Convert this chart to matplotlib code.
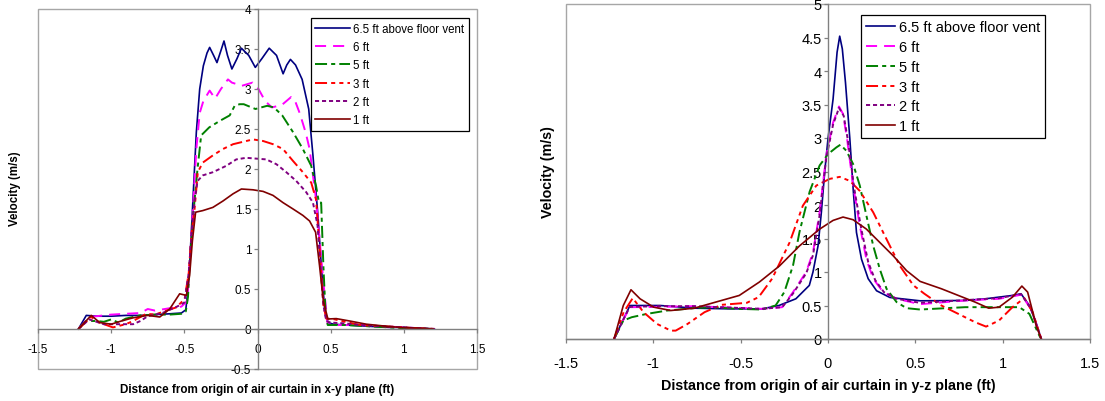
import matplotlib
matplotlib.use("Agg")
import matplotlib.pyplot as plt
from matplotlib.patches import Rectangle
from matplotlib.ticker import FuncFormatter, MultipleLocator

plt.rcParams['font.family'] = ['Liberation Sans', 'DejaVu Sans']
plt.rcParams['axes.unicode_minus'] = False

labels = ['6.5 ft above floor vent', '6 ft', '5 ft', '3 ft', '2 ft', '1 ft']

# ---- x-y plane (left chart) ----
xl_65 = [-1.224, -1.17, -1.1, -1.0, -0.9, -0.8, -0.7, -0.6, -0.52, -0.49,
         -0.475, -0.464, -0.441, -0.418, -0.395, -0.37, -0.345, -0.327, -0.30, -0.277,
         -0.25, -0.229, -0.205, -0.175, -0.14, -0.11, -0.06, -0.015, 0.03, 0.08,
         0.13, 0.175, 0.20, 0.225, 0.26, 0.305, 0.35, 0.379, 0.413, 0.436,
         0.459, 0.481, 0.52, 0.6, 0.7, 0.8, 0.9, 1.0, 1.1, 1.2]
yl_65 = [0, 0.17, 0.16, 0.16, 0.17, 0.17, 0.18, 0.19, 0.2, 0.24,
         0.5, 0.79, 1.62, 2.46, 3.0, 3.29, 3.45, 3.52, 3.42, 3.33,
         3.48, 3.6, 3.42, 3.25, 3.38, 3.51, 3.42, 3.27, 3.38, 3.51,
         3.42, 3.19, 3.3, 3.37, 3.3, 3.12, 2.75, 2.17, 1.42, 0.79,
         0.25, 0.08, 0.06, 0.05, 0.04, 0.03, 0.02, 0.02, 0.01, 0.0]

xl_6 = [-1.224, -1.15, -1.0, -0.9, -0.8, -0.75, -0.7, -0.6, -0.52, -0.48,
        -0.464, -0.441, -0.418, -0.395, -0.37, -0.327, -0.29, -0.25, -0.202, -0.175,
        -0.107, -0.034, 0.007, 0.052, 0.098, 0.166, 0.23, 0.257, 0.29, 0.33,
        0.356, 0.40, 0.43, 0.46, 0.48, 0.52, 0.6, 0.7, 0.8, 0.9,
        1.0, 1.1, 1.2]
yl_6 = [0, 0.15, 0.18, 0.19, 0.2, 0.25, 0.23, 0.26, 0.28, 0.35,
        0.8, 1.5, 2.25, 2.7, 2.85, 2.98, 2.88, 3.0, 3.12, 3.08,
        3.04, 3.08, 3.0, 2.85, 2.77, 2.8, 2.9, 2.85, 2.69, 2.45,
        2.25, 1.62, 1.0, 0.4, 0.06, 0.05, 0.05, 0.05, 0.04, 0.03,
        0.02, 0.01, 0.0]

xl_5 = [-1.224, -1.17, -1.1, -1.05, -1.0, -0.95, -0.9, -0.8, -0.7, -0.6,
        -0.52, -0.49, -0.475, -0.464, -0.441, -0.41, -0.385, -0.33, -0.259, -0.19,
        -0.156, -0.122, -0.094, -0.014, 0.066, 0.112, 0.169, 0.243, 0.31, 0.367,
        0.40, 0.42, 0.435, 0.45, 0.465, 0.48, 0.52, 0.6, 0.7, 0.8,
        0.9, 1.0, 1.1, 1.2]
yl_5 = [0, 0.1, 0.1, 0.09, 0.12, 0.08, 0.13, 0.17, 0.18, 0.18,
        0.19, 0.22, 0.4, 0.8, 1.4, 2.0, 2.42, 2.52, 2.6, 2.67,
        2.79, 2.81, 2.81, 2.75, 2.79, 2.77, 2.67, 2.46, 2.25, 2.04,
        1.79, 1.58, 1.58, 0.8, 0.2, 0.05, 0.05, 0.05, 0.04, 0.03,
        0.02, 0.01, 0.01, 0.0]

xl_3 = [-1.224, -1.136, -1.08, -0.988, -0.9, -0.85, -0.76, -0.7, -0.623, -0.555,
        -0.498, -0.47, -0.45, -0.43, -0.408, -0.374, -0.305, -0.236, -0.167, -0.099,
        -0.031, 0.038, 0.106, 0.174, 0.243, 0.31, 0.367, 0.40, 0.425, 0.45,
        0.47, 0.516, 0.6, 0.7, 0.8, 0.9, 1.0, 1.1, 1.22]
yl_3 = [0, 0.15, 0.08, 0.02, 0.06, 0.1, 0.19, 0.18, 0.23, 0.27,
        0.375, 0.7, 1.2, 1.5, 1.96, 2.08, 2.17, 2.25, 2.31, 2.34,
        2.37, 2.35, 2.31, 2.25, 2.1, 1.96, 1.83, 1.62, 1.0, 0.3,
        0.13, 0.125, 0.09, 0.05, 0.04, 0.03, 0.02, 0.01, 0.0]

xl_2 = [-1.224, -1.15, -1.05, -0.95, -0.85, -0.8, -0.75, -0.65, -0.55, -0.5,
        -0.47, -0.45, -0.43, -0.41, -0.374, -0.305, -0.213, -0.145, -0.077, -0.01,
        0.06, 0.129, 0.197, 0.265, 0.333, 0.379, 0.41, 0.43, 0.45, 0.47,
        0.5, 0.6, 0.7, 0.8, 0.9, 1.0, 1.1, 1.22]
yl_2 = [0, 0.12, 0.06, 0.06, 0.06, 0.1, 0.16, 0.2, 0.28, 0.33,
        0.7, 1.2, 1.6, 1.85, 1.92, 1.96, 2.04, 2.12, 2.14, 2.13,
        2.12, 2.06, 1.96, 1.85, 1.71, 1.58, 1.3, 0.8, 0.3, 0.1,
        0.08, 0.07, 0.05, 0.04, 0.03, 0.02, 0.01, 0.0]

xl_1 = [-1.224, -1.136, -1.078, -1.0, -0.93, -0.85, -0.75, -0.668, -0.6, -0.532,
        -0.486, -0.464, -0.445, -0.423, -0.374, -0.305, -0.236, -0.167, -0.11, -0.031,
        0.038, 0.106, 0.174, 0.243, 0.31, 0.356, 0.397, 0.424, 0.45, 0.481,
        0.538, 0.63, 0.744, 0.85, 0.972, 1.1, 1.2]
yl_1 = [0, 0.17, 0.08, 0.06, 0.1, 0.14, 0.17, 0.15, 0.25, 0.44,
        0.42, 0.67, 1.1, 1.46, 1.48, 1.52, 1.6, 1.69, 1.75, 1.74,
        1.72, 1.67, 1.58, 1.5, 1.42, 1.35, 1.21, 0.79, 0.35, 0.125,
        0.13, 0.1, 0.06, 0.04, 0.02, 0.01, 0.0]

# ---- y-z plane (right chart) ----
xr_65 = [-1.225, -1.17, -1.134, -1.0, -0.96, -0.766, -0.572, -0.378, -0.281, -0.184,
         -0.107, -0.086, -0.057, -0.038, -0.019, 0.0, 0.029, 0.052, 0.067, 0.082,
         0.1, 0.125, 0.144, 0.163, 0.192, 0.23, 0.278, 0.354, 0.527, 0.785,
         0.901, 1.056, 1.105, 1.153, 1.19, 1.221]
yr_65 = [0, 0.3, 0.5, 0.5, 0.5, 0.46, 0.45, 0.45, 0.5, 0.6,
         0.8, 1.0, 1.39, 1.89, 2.49, 2.99, 3.58, 4.28, 4.52, 4.33,
         3.83, 2.99, 2.24, 1.59, 1.19, 0.9, 0.72, 0.62, 0.57, 0.575,
         0.6, 0.65, 0.675, 0.5, 0.25, 0.0]

xr_6 = [-1.225, -1.17, -1.134, -0.96, -0.766, -0.572, -0.378, -0.262, -0.2, -0.125,
        -0.086, -0.048, -0.01, 0.029, 0.063, 0.086, 0.109, 0.144, 0.182, 0.22,
        0.259, 0.316, 0.393, 0.527, 0.785, 0.979, 1.105, 1.163, 1.221]
yr_6 = [0, 0.3, 0.475, 0.48, 0.49, 0.47, 0.45, 0.475, 0.7, 1.0,
        1.29, 1.89, 2.74, 3.23, 3.47, 3.36, 2.99, 2.29, 1.69, 1.19,
        0.9, 0.7, 0.6, 0.52, 0.575, 0.6, 0.66, 0.45, 0.0]

xr_5 = [-1.225, -1.172, -1.124, -1.037, -0.92, -0.766, -0.669, -0.514, -0.378, -0.3,
        -0.25, -0.2, -0.163, -0.105, -0.048, 0.0, 0.048, 0.071, 0.105, 0.144,
        0.182, 0.22, 0.259, 0.297, 0.335, 0.393, 0.45, 0.527, 0.785, 0.979,
        1.095, 1.153, 1.21, 1.221]
yr_5 = [0, 0.275, 0.325, 0.375, 0.425, 0.46, 0.475, 0.45, 0.44, 0.5,
        0.7, 1.1, 1.6, 2.2, 2.59, 2.76, 2.86, 2.9, 2.81, 2.61,
        2.29, 1.84, 1.39, 1.04, 0.75, 0.55, 0.46, 0.44, 0.475, 0.475,
        0.475, 0.375, 0.05, 0.0]

xr_3 = [-1.225, -1.17, -1.118, -1.056, -0.979, -0.9, -0.872, -0.804, -0.707, -0.61,
        -0.465, -0.397, -0.32, -0.22, -0.144, -0.067, 0.01, 0.067, 0.125, 0.182,
        0.259, 0.335, 0.412, 0.489, 0.552, 0.649, 0.746, 0.843, 0.905, 0.979,
        1.056, 1.124, 1.172, 1.221]
yr_3 = [0, 0.4, 0.61, 0.4, 0.225, 0.125, 0.125, 0.225, 0.4, 0.51,
        0.54, 0.625, 0.9, 1.44, 1.99, 2.29, 2.39, 2.42, 2.36, 2.21,
        1.89, 1.49, 1.09, 0.8, 0.675, 0.5, 0.375, 0.25, 0.185, 0.275,
        0.475, 0.61, 0.4, 0.0]

xr_2 = [-1.225, -1.17, -1.134, -0.96, -0.766, -0.572, -0.378, -0.262, -0.2, -0.125,
        -0.086, -0.048, -0.01, 0.029, 0.063, 0.09, 0.115, 0.15, 0.19, 0.23,
        0.27, 0.32, 0.393, 0.527, 0.785, 0.979, 1.105, 1.163, 1.221]
yr_2 = [0, 0.3, 0.48, 0.49, 0.49, 0.47, 0.45, 0.475, 0.68, 0.98,
        1.25, 1.85, 2.7, 3.2, 3.45, 3.33, 2.95, 2.25, 1.65, 1.15,
        0.88, 0.7, 0.6, 0.54, 0.58, 0.61, 0.67, 0.45, 0.0]

xr_1 = [-1.225, -1.172, -1.128, -1.076, -0.998, -0.9, -0.766, -0.61, -0.508, -0.393,
        -0.278, -0.163, -0.048, 0.029, 0.086, 0.144, 0.22, 0.297, 0.374, 0.45,
        0.527, 0.649, 0.746, 0.843, 0.92, 0.979, 1.056, 1.11, 1.143, 1.192,
        1.221]
yr_1 = [0, 0.5, 0.735, 0.6, 0.475, 0.425, 0.46, 0.575, 0.65, 0.85,
        1.09, 1.39, 1.64, 1.77, 1.82, 1.78, 1.64, 1.44, 1.24, 1.02,
        0.86, 0.75, 0.65, 0.55, 0.46, 0.475, 0.625, 0.79, 0.7, 0.2,
        0.0]

# line styles (Excel-like)
styles = [
    dict(color='#000080', lw=1.2, ls='-'),
    dict(color='#ff00ff', lw=1.4, ls=(0, (5.7, 3.6))),
    dict(color='#008000', lw=1.4, ls=(0, (6.2, 2.1, 2.1, 2.1))),
    dict(color='#ff0000', lw=1.4, ls=(0, (6.2, 2.1, 2.1, 2.1, 2.1, 2.1))),
    dict(color='#800080', lw=1.4, ls=(0, (2.1, 1.5))),
    dict(color='#800000', lw=1.2, ls='-'),
]

W, H = 1105, 402
fig = plt.figure(figsize=(W / 100, H / 100), dpi=100)

axL = fig.add_axes([38 / W, (H - 370) / H, 439 / W, 360 / H])
axR = fig.add_axes([566 / W, (H - 340) / H, 524 / W, 335 / H])


def setup(ax, ylim, fs, xpad):
    ax.set_xlim(-1.5, 1.5)
    ax.set_ylim(*ylim)
    ax.xaxis.set_major_locator(MultipleLocator(0.5))
    ax.yaxis.set_major_locator(MultipleLocator(0.5))
    fmt = FuncFormatter(lambda v, p: f'{v:g}')
    ax.xaxis.set_major_formatter(fmt)
    ax.yaxis.set_major_formatter(fmt)
    for s in ['top', 'right']:
        ax.spines[s].set_visible(False)
    for s in ['left', 'bottom']:
        ax.spines[s].set_position(('data', 0))
        ax.spines[s].set_color('#808080')
        ax.spines[s].set_linewidth(1.0)
    ax.add_patch(Rectangle((0, 0), 1, 1, transform=ax.transAxes, fill=False,
                           ec='#a6a6a6', lw=1.0, clip_on=False, zorder=0))
    ax.tick_params(direction='out', length=3, width=0.9, color='#808080',
                   labelsize=fs, labelcolor='black')
    ax.tick_params(axis='x', pad=xpad)
    ax.tick_params(axis='y', pad=1.5)


setup(axL, (-0.5, 4), 8.5, 7)
setup(axR, (0, 5), 10.5, 9.5)

left_series = [(xl_65, yl_65), (xl_6, yl_6), (xl_5, yl_5),
               (xl_3, yl_3), (xl_2, yl_2), (xl_1, yl_1)]
right_series = [(xr_65, yr_65), (xr_6, yr_6), (xr_5, yr_5),
                (xr_3, yr_3), (xr_2, yr_2), (xr_1, yr_1)]

for (x, y), lab, st in zip(left_series, labels, styles):
    axL.plot(x, y, label=lab, color=st['color'], lw=st['lw'], linestyle=st['ls'])
for (x, y), lab, st in zip(right_series, labels, styles):
    axR.plot(x, y, label=lab, color=st['color'], lw=st['lw'], linestyle=st['ls'])

legL = axL.legend(loc='upper right', bbox_to_anchor=(0.982, 0.975), fontsize=8.3,
                  frameon=True, fancybox=False, edgecolor='black', framealpha=1,
                  borderaxespad=0, handlelength=3.0, handletextpad=0.3,
                  labelspacing=0.55, borderpad=0.4)
legL.get_frame().set_linewidth(0.9)

legR = axR.legend(loc='upper right', bbox_to_anchor=(0.914, 0.967), fontsize=10.5,
                  frameon=True, fancybox=False, edgecolor='black', framealpha=1,
                  borderaxespad=0, handlelength=2.0, handletextpad=0.25,
                  labelspacing=0.4, borderpad=0.35)
legR.get_frame().set_linewidth(0.9)

fig.text(15 / W, 1 - 189 / H, 'Velocity (m/s)', rotation=90, ha='center',
         va='center', fontsize=8.3, fontweight='bold')
fig.text(257 / W, 1 - 390 / H, 'Distance from origin of air curtain in x-y plane (ft)',
         ha='center', va='center', fontsize=8.4, fontweight='bold')
fig.text(548 / W, 1 - 172 / H, 'Velocity (m/s)', rotation=90, ha='center',
         va='center', fontsize=10.3, fontweight='bold')
fig.text(828 / W, 1 - 386 / H, 'Distance from origin of air curtain in y-z plane (ft)',
         ha='center', va='center', fontsize=10.3, fontweight='bold')

fig.savefig('out.png', dpi=100)
